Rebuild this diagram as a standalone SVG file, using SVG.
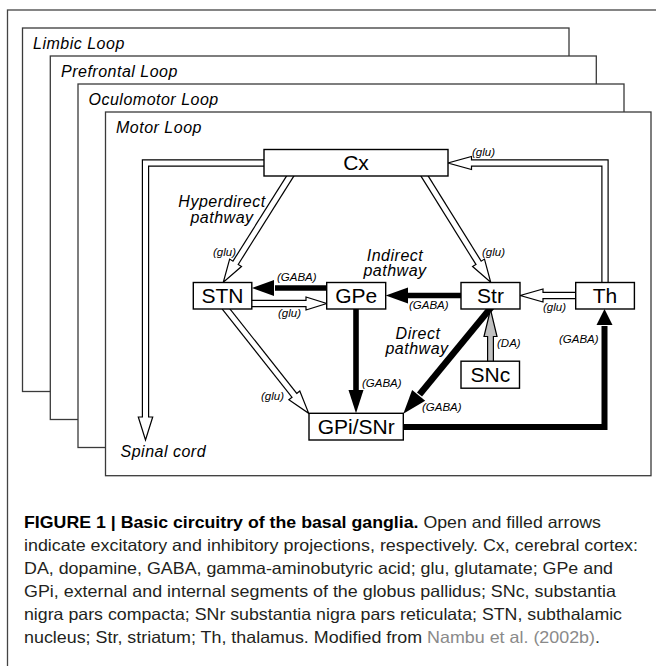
<svg xmlns="http://www.w3.org/2000/svg" width="656" height="666" viewBox="0 0 656 666">
<style>
.loop{fill:#fff;stroke:#3a3a3a;stroke-width:1.3}
.frame{fill:none;stroke:#444;stroke-width:1.3}
.node{fill:#fff;stroke:#000;stroke-width:1.4}
.nl{font-family:"Liberation Sans",Arial,sans-serif;font-size:21px;text-anchor:middle;fill:#000}
.lab{font-family:"Liberation Sans",Arial,sans-serif;font-style:italic;font-size:11.5px;fill:#000}
.big{font-family:"Liberation Sans",Arial,sans-serif;font-style:italic;font-size:16px;letter-spacing:0.5px;fill:#000}
.mid{text-anchor:middle}
.oo{fill:none;stroke:#000;stroke-width:7.4;stroke-linejoin:miter}
.oi{fill:none;stroke:#fff;stroke-width:5;stroke-linejoin:miter}
.oh{fill:#fff;stroke:#000;stroke-width:1.2;stroke-linejoin:miter}
.fs{fill:none;stroke:#000;stroke-width:5.6;stroke-linejoin:miter}
.fh{fill:#000}
.gi{fill:none;stroke:#c0c0c0;stroke-width:4.6}
.gh{fill:#c0c0c0;stroke:#000;stroke-width:1.2}
.cap{font-family:"Liberation Sans",Arial,sans-serif;font-size:16.5px;fill:#231f20}
</style>
<rect class="frame" x="7.5" y="10" width="700" height="700"/>
<g id="limbic-loop"><rect class="loop" x="22.5" y="28" width="546.5" height="363.5"/><text class="big" x="33" y="48.5">Limbic Loop</text></g>
<g id="prefrontal-loop"><rect class="loop" x="50.3" y="56" width="546" height="363.5"/><text class="big" x="61" y="76.5">Prefrontal Loop</text></g>
<g id="oculomotor-loop"><rect class="loop" x="78" y="84" width="546" height="363.5"/><text class="big" x="88.5" y="104.5">Oculomotor Loop</text></g>
<g id="motor-loop"><rect class="loop" x="105.5" y="112" width="545.5" height="363.7"/><text class="big" x="116" y="132.5">Motor Loop</text></g>

<g id="connectors">
  <!-- open (excitatory) arrows: heads -->
  <polygon class="oh" points="138.3,417 152.7,417 145.5,440"/>
  <polygon class="oh" points="471.5,156.5 471.5,169.5 448,163"/>
  <polygon class="oh" points="241.48,266.57 229.64,259.11 223.3,282.3"/>
  <polygon class="oh" points="472.61,266.47 484.49,259.07 490.7,282.3"/>
  <polygon class="oh" points="543,289 543,302 520.3,295.5"/>
  <polygon class="oh" points="306,297 306,310 326.7,303.5"/>
  <polygon class="oh" points="288.86,399.7 299.8,390.96 308.7,413.3"/>
  <!-- open arrows: stems -->
  <path class="oo" d="M266,163 H145.5 V417"/>
  <path class="oi" d="M266,163 H145.5 V418.5"/>
  <path class="oo" d="M605,284 V163 H471.5"/>
  <path class="oi" d="M605,284 V163 H470"/>
  <path class="oo" d="M291.5,174 L235.56,262.84"/>
  <path class="oi" d="M291.5,174 L234.76,264.11"/>
  <path class="oo" d="M423.3,174 L478.55,262.77"/>
  <path class="oi" d="M423.3,174 L479.34,264.04"/>
  <path class="oo" d="M577,295.5 H543"/>
  <path class="oi" d="M577,295.5 H541.5"/>
  <path class="oo" d="M250,303.5 H306"/>
  <path class="oi" d="M250,303.5 H307.5"/>
  <path class="oo" d="M224.5,307 L294.33,395.33"/>
  <path class="oi" d="M224.5,307 L295.27,396.5"/>
  <!-- filled (inhibitory) arrows -->
  <path class="fs" d="M330,288 H275"/>
  <polygon class="fh" points="274,280 274,296 252,288"/>
  <path class="fs" d="M463,295.5 H407"/>
  <polygon class="fh" points="408,287.5 408,303.5 385.7,295.5"/>
  <path class="fs" d="M356,307 V391"/>
  <polygon class="fh" points="348.5,390 363.5,390 356,413.3"/>
  <path class="fs" style="stroke-width:6.6" d="M491.5,307 L419.5,394.5"/>
  <polygon class="fh" points="425.2,400.8 412.14,389.92 403.3,413.8"/>
  <path class="fs" style="stroke-width:6" d="M401,427 H604.5 V326"/>
  <polygon class="fh" points="596.5,325 612.5,325 604.5,309"/>
  <!-- dopaminergic (grey) arrow -->
  <polygon class="gh" points="484,336.5 497,336.5 490.5,309.5"/>
  <path class="oo" style="stroke-width:7" d="M490.5,362 V336.5"/>
  <path class="gi" d="M490.5,362 V335"/>
</g>

<g id="node-cx"><rect class="node" x="264" y="149.5" width="184" height="26.5"/><text class="nl" x="356" y="170.3">Cx</text></g>
<g id="node-stn"><rect class="node" x="193.3" y="282.5" width="58.5" height="26.5"/><text class="nl" x="222.5" y="303.3">STN</text></g>
<g id="node-gpe"><rect class="node" x="326.7" y="282.5" width="59" height="26.5"/><text class="nl" x="356.2" y="303.3">GPe</text></g>
<g id="node-str"><rect class="node" x="461" y="282.5" width="59" height="26.5"/><text class="nl" x="490.5" y="303.3">Str</text></g>
<g id="node-th"><rect class="node" x="575.7" y="282.5" width="58.7" height="26.5"/><text class="nl" x="605" y="303.3">Th</text></g>
<g id="node-snc"><rect class="node" x="461" y="361.2" width="58.5" height="27"/><text class="nl" x="490.3" y="382.2">SNc</text></g>
<g id="node-gpi-snr"><rect class="node" x="309" y="413.3" width="94.3" height="26.7"/><text class="nl" x="356.2" y="434.2">GPi/SNr</text></g>

<g id="labels">
  <text class="lab" x="472" y="156">(glu)</text>
  <text class="lab" x="213" y="256">(glu)</text>
  <text class="lab" x="277" y="281">(GABA)</text>
  <text class="lab" x="278" y="317">(glu)</text>
  <text class="lab" x="409" y="309">(GABA)</text>
  <text class="lab" x="482" y="256">(glu)</text>
  <text class="lab" x="543" y="311">(glu)</text>
  <text class="lab" x="497" y="347">(DA)</text>
  <text class="lab" x="559" y="343">(GABA)</text>
  <text class="lab" x="422" y="411">(GABA)</text>
  <text class="lab" x="362" y="387">(GABA)</text>
  <text class="lab" x="261" y="400">(glu)</text>
  <text class="big mid" x="222" y="207">Hyperdirect<tspan x="222" dy="15.5">pathway</tspan></text>
  <text class="big mid" x="395" y="260.5">Indirect<tspan x="395" dy="15.5">pathway</tspan></text>
  <text class="big mid" x="418" y="338.5">Direct<tspan x="417" dy="15.5">pathway</tspan></text>
  <text class="big" x="120.5" y="457">Spinal cord</text>
</g>

<g id="caption">
  <text class="cap" x="24" y="528" textLength="577" lengthAdjust="spacingAndGlyphs"><tspan font-weight="bold" fill="#000">FIGURE 1 | Basic circuitry of the basal ganglia.</tspan> Open and filled arrows</text>
  <text class="cap" x="24" y="551" textLength="614" lengthAdjust="spacingAndGlyphs">indicate excitatory and inhibitory projections, respectively. Cx, cerebral cortex:</text>
  <text class="cap" x="24" y="574" textLength="589" lengthAdjust="spacingAndGlyphs">DA, dopamine, GABA, gamma-aminobutyric acid; glu, glutamate; GPe and</text>
  <text class="cap" x="24" y="597" textLength="592" lengthAdjust="spacingAndGlyphs">GPi, external and internal segments of the globus pallidus; SNc, substantia</text>
  <text class="cap" x="24" y="620" textLength="598" lengthAdjust="spacingAndGlyphs">nigra pars compacta; SNr substantia nigra pars reticulata; STN, subthalamic</text>
  <text class="cap" x="24" y="643" textLength="576" lengthAdjust="spacingAndGlyphs">nucleus; Str, striatum; Th, thalamus. Modified from <tspan fill="#8a8a8a">Nambu et al. (2002b)</tspan>.</text>
</g>
</svg>
